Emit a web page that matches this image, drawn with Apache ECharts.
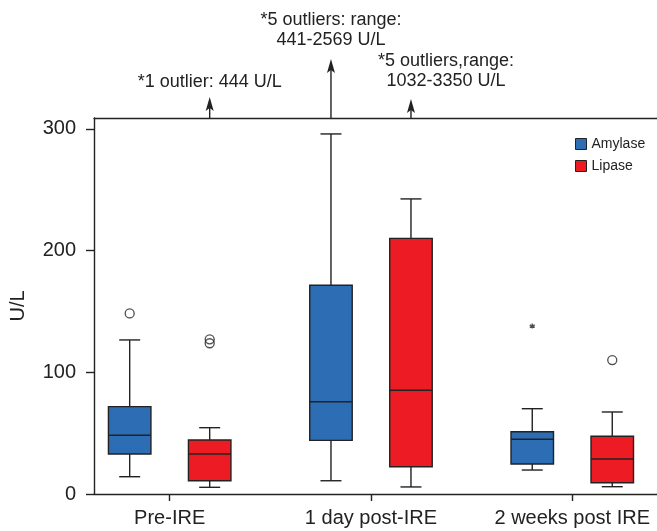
<!DOCTYPE html>
<html>
<head>
<meta charset="utf-8">
<script src="https://cdn.jsdelivr.net/npm/echarts@6/dist/echarts.min.js"></script>
<style>html,body{margin:0;padding:0;background:#fff;}#c{width:657px;height:531px;}</style>
</head>
<body>
<div id="c"></div>
<script>
// ---- data ----
const categories = ['Pre-IRE', '1 day post-IRE', '2 weeks post IRE'];
const seriesNames = ['Amylase', 'Lipase'];
// [low, Q1, median, Q3, high] per category
const amylaseBox = [[14.2, 32.9, 48.2, 71.8, 126.6], [10.9, 44.1, 75.9, 171.5, 295.9], [19.7, 24.7, 45.0, 51.2, 70.1]];
const lipaseBox = [[5.5, 10.9, 32.9, 44.4, 54.5], [5.8, 22.4, 85.2, 210.1, 242.5], [6.0, 9.3, 28.8, 47.4, 67.4]];
// outliers: [categoryIndex, value]
const amylaseOutliers = [[0, 148.4]];
const amylaseExtremes = [[2, 138]];
const lipaseOutliers = [[0, 127.1], [0, 123.9], [2, 110.1]];
// off-scale notes: [categoryIndex, seriesIndex, text]
const offScaleNotes = [
  [0, 1, '*1 outlier: 444 U/L'],
  [1, 0, '*5 outliers: range:\n441-2569 U/L'],
  [1, 1, '*5 outliers,range:\n1032-3350 U/L']
];
const yTicks = [0, 100, 200, 300];

// ---- styling / layout ----
const colors = ['#2c6db3', '#ed1c24'];
const FONT = '"Liberation Sans", Arial, Helvetica, sans-serif';
const INK = '#222';
const BOX_OFFSET = 40;   // px from category center
const BOX_WIDTH = 42.5;
const CAP_WIDTH = 21;
const Y_MAX = 309;
const noteLayout = [ // arrow length, text dx, text center dy (from plot top)
  {len: 21, dx: 0, dy: -36},
  {len: 59, dx: 0, dy: -87.5},
  {len: 19, dx: 35, dy: -46.5}
];

const chart = echarts.init(document.getElementById('c'), null, {renderer: 'canvas'});

function boxSeries(name, idx, boxes) {
  const sign = idx === 0 ? -1 : 1;
  return {
    name: name,
    type: 'custom',
    xAxisIndex: 0,
    itemStyle: {color: colors[idx]},
    encode: {x: 0, y: [1, 2, 3, 4, 5]},
    data: boxes.map((b, i) => [i].concat(b)),
    renderItem: function (params, api) {
      const cat = api.value(0);
      const cx = api.coord([cat, 0])[0] + sign * BOX_OFFSET;
      const yLow = api.coord([cat, api.value(1)])[1];
      const yQ1 = api.coord([cat, api.value(2)])[1];
      const yMed = api.coord([cat, api.value(3)])[1];
      const yQ3 = api.coord([cat, api.value(4)])[1];
      const yHigh = api.coord([cat, api.value(5)])[1];
      const ls = {stroke: INK, lineWidth: 1.4};
      return {
        type: 'group',
        children: [
          {type: 'line', shape: {x1: cx, y1: yQ3, x2: cx, y2: yHigh}, style: ls},
          {type: 'line', shape: {x1: cx - CAP_WIDTH / 2, y1: yHigh, x2: cx + CAP_WIDTH / 2, y2: yHigh}, style: ls},
          {type: 'line', shape: {x1: cx, y1: yQ1, x2: cx, y2: yLow}, style: ls},
          {type: 'line', shape: {x1: cx - CAP_WIDTH / 2, y1: yLow, x2: cx + CAP_WIDTH / 2, y2: yLow}, style: ls},
          {type: 'rect', shape: {x: cx - BOX_WIDTH / 2, y: yQ3, width: BOX_WIDTH, height: yQ1 - yQ3},
            style: {fill: colors[idx], stroke: INK, lineWidth: 1.4}},
          {type: 'line', shape: {x1: cx - BOX_WIDTH / 2, y1: yMed, x2: cx + BOX_WIDTH / 2, y2: yMed}, style: {stroke: INK, lineWidth: 1.5}}
        ]
      };
    }
  };
}

function outlierSeries(name, idx, data, symbol, size) {
  const sign = idx === 0 ? -1 : 1;
  return {
    name: name,
    type: 'scatter',
    data: data,
    symbol: symbol,
    symbolSize: size,
    symbolOffset: [sign * BOX_OFFSET, 0],
    itemStyle: {color: 'rgba(0,0,0,0)', borderColor: INK, borderWidth: 1.3},
    emphasis: {disabled: true},
    z: 5
  };
}

const option = {
  animation: false,
  backgroundColor: '#fff',
  textStyle: {fontFamily: FONT},
  grid: {left: 92, right: 0, top: 118, bottom: 37},
  legend: {
    data: seriesNames,
    orient: 'vertical',
    left: 570,
    top: 132,
    icon: 'rect',
    itemWidth: 11,
    itemHeight: 11,
    itemGap: 8,
    itemStyle: {borderColor: INK, borderWidth: 1},
    textStyle: {fontSize: 14, color: INK, fontFamily: FONT},
    selectedMode: false
  },
  xAxis: [{
    type: 'value',
    min: -0.376,
    max: 2.421,
    axisLine: {show: true, onZero: false, lineStyle: {color: INK, width: 1.4}},
    axisTick: {show: true, length: 7, customValues: [0, 1, 2], lineStyle: {color: INK, width: 1.4}},
    axisLabel: {
      customValues: [0, 1, 2],
      formatter: v => categories[Math.round(v)] || '',
      fontSize: 20, color: INK, margin: 14, fontFamily: FONT
    },
    splitLine: {show: false}
  }, {
    type: 'value',
    position: 'top',
    min: -0.376,
    max: 2.421,
    axisLine: {show: true, onZero: false, lineStyle: {color: INK, width: 1.4}},
    axisTick: {show: false},
    axisLabel: {show: false},
    splitLine: {show: false}
  }],
  yAxis: {
    type: 'value',
    min: 0,
    max: Y_MAX,
    name: 'U/L',
    nameLocation: 'middle',
    nameGap: 66,
    nameTextStyle: {fontSize: 20, color: INK, fontFamily: FONT},
    axisLine: {show: true, onZero: false, lineStyle: {color: INK, width: 1.4}},
    axisTick: {show: true, length: 8, customValues: yTicks, lineStyle: {color: INK, width: 1.4}},
    axisLabel: {customValues: yTicks, fontSize: 20, color: INK, margin: 18, fontFamily: FONT},
    splitLine: {show: false}
  },
  series: [
    boxSeries(seriesNames[0], 0, amylaseBox),
    boxSeries(seriesNames[1], 1, lipaseBox),
    outlierSeries('Amylase outliers', 0, amylaseOutliers, 'circle', 9),
    outlierSeries('Amylase extremes', 0, amylaseExtremes,
      'path://M0,-10L0,10M-8.66,-5L8.66,5M-8.66,5L8.66,-5', 5),
    outlierSeries('Lipase outliers', 1, lipaseOutliers, 'circle', 9),
    {
      name: 'Off-scale notes',
      type: 'custom',
      clip: false,
      silent: true,
      encode: {x: 0, y: 1},
      data: offScaleNotes.map((n, i) => [n[0], Y_MAX, n[1], i]),
      renderItem: function (params, api) {
        const cat = api.value(0);
        const sIdx = api.value(2);
        const i = api.value(3);
        const L = noteLayout[i];
        const p = api.coord([cat, Y_MAX]);
        const x = p[0] + (sIdx === 0 ? -1 : 1) * BOX_OFFSET;
        const top = p[1];
        const tip = top - L.len;
        return {
          type: 'group',
          children: [
            {type: 'line', shape: {x1: x, y1: top, x2: x, y2: tip + 8}, style: {stroke: INK, lineWidth: 1.4}},
            {type: 'polygon', shape: {points: [[x, tip], [x - 4, tip + 14], [x, tip + 11], [x + 4, tip + 14]]},
              style: {fill: INK}},
            {type: 'text', x: x + L.dx, y: top + L.dy, style: {
              text: offScaleNotes[i][2], align: 'center', verticalAlign: 'middle',
              fontSize: 18, lineHeight: 20, fontFamily: FONT, fill: INK
            }}
          ]
        };
      }
    }
  ]
};
chart.setOption(option);
</script>
</body>
</html>
